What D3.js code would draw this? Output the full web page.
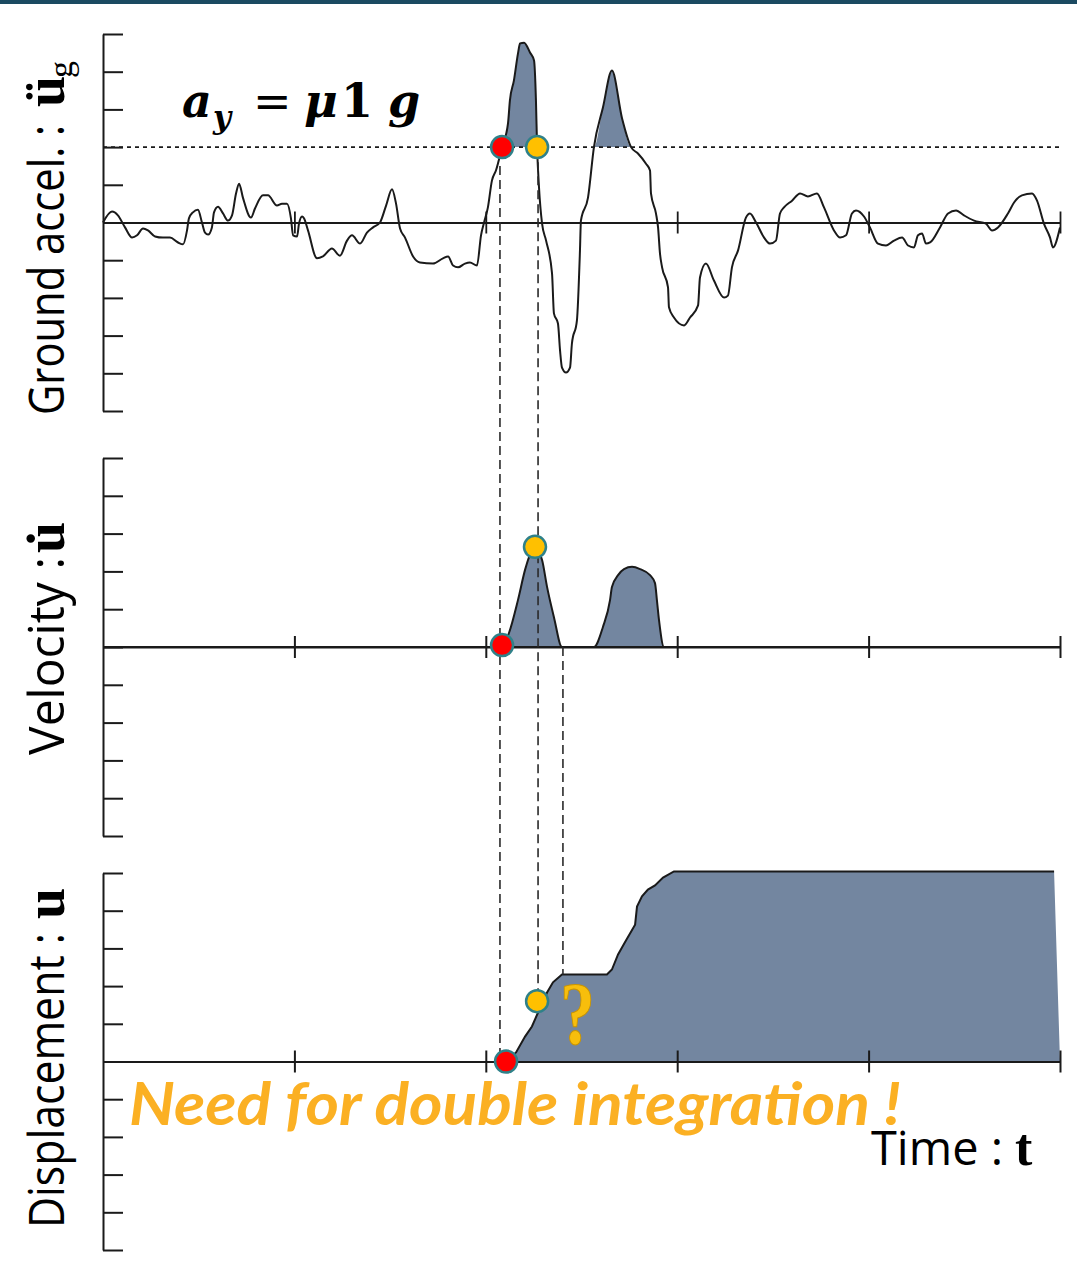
<!DOCTYPE html>
<html><head><meta charset="utf-8">
<script src="https://cdn.jsdelivr.net/npm/d3@7"></script>
<style>html,body{margin:0;padding:0;background:#fff;} svg{display:block;}</style>
</head><body>
<svg id="chart" width="1077" height="1272"></svg>
<script>
// ---------- data ----------
const timeTicks = [10, 20, 30, 40, 50];
const yTicks = [-5, -4, -3, -2, -1, 0, 1, 2, 3, 4, 5];
const threshold = 2; // a_y

const accelT = [0,0.47,0.78,1.15,1.52,1.78,2.09,2.35,2.72,3.13,
3.50,3.92,4.18,4.39,4.49,4.70,4.96,5.17,5.33,5.49,
5.69,5.80,6.01,6.27,6.53,6.74,6.95,7.11,7.31,7.73,
7.94,8.36,8.62,9.09,9.35,9.61,9.82,9.93,10.14,10.24,
10.40,10.50,10.71,11.18,11.49,11.96,12.38,12.75,13.01,13.43,
13.79,14.11,14.47,14.79,15.10,15.31,15.52,15.78,16.20,16.56,
17.24,17.76,18.03,18.29,18.55,18.91,19.17,19.54,19.75,19.91,
20.11,20.32,20.53,20.85,21.16,21.26,21.47,21.68,21.79,22.00,
22.31,22.52,22.62,22.68,22.78,22.94,23.15,23.46,23.56,23.77,
23.88,23.98,24.19,24.40,24.50,24.76,24.92,24.97,25.34,25.65,
26.12,26.59,27.12,27.59,27.95,28.37,28.58,28.63,28.89,29.00,
29.10,29.21,29.52,29.57,29.83,30.36,30.67,31.09,31.19,31.50,
31.92,32.45,32.65,32.86,33.18,33.59,33.80,34.12,34.54,34.85,
35.16,35.37,35.58,36.00,36.42,36.83,37.30,37.67,38.19,38.51,
38.82,39.13,39.34,39.76,40.07,40.49,40.91,41.33,41.75,42.06,
42.37,42.58,42.79,43.00,43.21,43.73,44.15,44.57,44.98,45.51,
46.13,46.45,46.76,47.28,47.60,48.01,48.54,48.80,49.16,49.48,
49.63,50.00];
const accelV = [0,0.29,0.19,-0.13,-0.40,-0.34,-0.16,-0.21,-0.37,-0.40,
-0.40,-0.53,-0.58,-0.21,0.11,0.27,0.34,0,-0.27,-0.32,
-0.13,0.27,0.42,0.24,0.05,0.19,0.77,1.03,0.66,0.13,
0.37,0.72,0.72,0.45,0.50,0.50,0.11,-0.34,-0.37,-0.03,
0.16,0.11,-0.21,-0.95,-0.90,-0.69,-0.88,-0.48,-0.34,-0.56,
-0.27,-0.13,0,0.45,0.88,0.50,-0.16,-0.40,-0.90,-1.06,
-1.09,-0.95,-0.90,-1.14,-1.19,-1.09,-1.06,-1.14,-0.34,0,
0.40,1.11,1.38,2.00,2.63,3.24,3.77,4.48,4.75,4.77,
4.51,4.30,3.24,2.00,0.93,-0.03,-0.48,-1.35,-2.41,-2.68,
-3.40,-3.85,-3.98,-3.85,-3.21,-2.60,-0.74,0.05,0.66,2.00,
3.05,4.03,2.76,2.00,1.83,1.56,1.38,0.77,0.24,-0.13,
-0.82,-1.19,-1.72,-2.25,-2.52,-2.73,-2.52,-2.20,-1.46,-1.09,
-1.54,-1.99,-1.94,-1.19,-0.74,0.13,0.24,0,-0.40,-0.56,
-0.48,0.24,0.40,0.58,0.77,0.69,0.77,0.40,-0.21,-0.40,
-0.34,0.24,0.32,0.16,-0.13,-0.56,-0.61,-0.48,-0.40,-0.61,
-0.66,-0.34,-0.29,-0.56,-0.53,-0.13,0.24,0.32,0.19,0.05,
-0.03,-0.21,-0.13,0.24,0.53,0.72,0.77,0.58,-0.03,-0.40,
-0.66,-0.13];

const velT = [0,20.85,21.21,21.68,22.05,22.26,22.47,22.68,22.94,23.20,23.56,23.98,25.65,26.12,26.49,26.59,26.91,27.22,27.64,28.06,28.58,28.84,28.94,29.05,29.31,50];
const velV = [0,0,0.37,1.24,2.04,2.38,2.57,2.54,2.30,1.59,0.79,0,0,0.53,1.24,1.59,1.90,2.06,2.12,2.06,1.90,1.69,1.24,0.71,0,0];

const dispT = [0,21.06,21.58,22.05,22.41,22.73,23.20,23.51,23.98,26.33,26.59,26.91,27.27,27.80,27.90,28.16,28.47,28.84,29.26,29.83,49.69,50];
const dispV = [0,0,0.24,0.66,0.93,1.30,1.83,2.10,2.31,2.31,2.44,2.84,3.16,3.63,4.11,4.38,4.56,4.67,4.88,5.04,5.04,0];

const accelDots = [{t:20.85, v:2, kind:"start"}, {t:22.68, v:2, kind:"end"}];
const velDots   = [{t:20.85, v:0.05, kind:"start"}, {t:22.57, v:2.65, kind:"end"}];
const dispDots  = [{t:21.06, v:0, kind:"start"}, {t:22.68, v:1.6, kind:"end"}];

const guideLines = [
  {t:20.74, from:["acc",1.5], to:["disp",0]},
  {t:22.73, from:["acc",1.6], to:["disp",1.6]},
  {t:24.03, from:["vel",0],   to:["disp",2.31]}
];

// ---------- styles ----------
const FILL = "#7386a0", INK = "#1a1a1a";
const DOT_COL = {start:"#ff0000", end:"#ffc000"};

// ---------- scales ----------
const svg = d3.select("#chart");
const x = d3.scaleLinear().domain([0,50]).range([103,1060]);
const yS = {
  acc:  d3.scaleLinear().domain([-5,5]).range([411,34]),
  vel:  d3.scaleLinear().domain([-5,5]).range([836,458]),
  disp: d3.scaleLinear().domain([-5,5]).range([1250,873])
};

svg.append("rect").attr("x",0).attr("y",0).attr("width",1077).attr("height",4).attr("fill","#1b4a61");

// ---------- fills ----------
const accData = d3.zip(accelT, accelV).map(([t,v])=>({t,v}));
const velData = d3.zip(velT, velV).map(([t,v])=>({t,v}));
const dispData = d3.zip(dispT, dispV).map(([t,v])=>({t,v}));

svg.append("path").datum(accData)
  .attr("fill", FILL)
  .attr("d", d3.area().curve(d3.curveMonotoneX)
    .x(d=>x(d.t)).y0(yS.acc(threshold)).y1(d=>yS.acc(Math.max(d.v,threshold))));

svg.append("path").datum(velData)
  .attr("fill", FILL).attr("stroke", INK).attr("stroke-width", 2)
  .attr("d", d3.area().curve(d3.curveMonotoneX)
    .x(d=>x(d.t)).y0(yS.vel(0)).y1(d=>yS.vel(d.v)));

svg.append("path").datum(dispData)
  .attr("fill", FILL)
  .attr("d", d3.area().x(d=>x(d.t)).y0(yS.disp(0)).y1(d=>yS.disp(d.v)));
svg.append("path").datum(dispData.filter(d=>d.t>=21 && d.t<50))
  .attr("fill","none").attr("stroke", INK).attr("stroke-width", 2)
  .attr("d", d3.line().x(d=>x(d.t)).y(d=>yS.disp(d.v)));

// threshold dotted line
svg.append("line").attr("x1", x(0)).attr("x2", x(50))
  .attr("y1", yS.acc(threshold)).attr("y2", yS.acc(threshold))
  .attr("stroke", INK).attr("stroke-width", 1.6).attr("stroke-dasharray", "4,4");

// accel curve
svg.append("path").datum(accData)
  .attr("fill","none").attr("stroke", INK).attr("stroke-width", 2).attr("stroke-linejoin","round")
  .attr("d", d3.line().curve(d3.curveMonotoneX).x(d=>x(d.t)).y(d=>yS.acc(d.v)));

// ---------- axes ----------
["acc","vel","disp"].forEach(p=>{
  const gy = svg.append("g").attr("transform", `translate(${x(0)},0)`)
    .call(d3.axisRight(yS[p]).tickValues(yTicks).tickSize(20).tickSizeOuter(0).tickFormat(""));
  gy.selectAll("path, line").attr("stroke", INK).attr("stroke-width", 2);
  const gx = svg.append("g").attr("transform", `translate(0,${yS[p](0)})`)
    .call(d3.axisBottom(x).tickValues(timeTicks).tickSizeOuter(0).tickFormat(""));
  gx.selectAll(".tick line").attr("y1", -11).attr("y2", 11);
  gx.selectAll("path, line").attr("stroke", INK).attr("stroke-width", p==="acc" ? 1.8 : 2);
});

// ---------- guides ----------
guideLines.forEach(g=>{
  svg.append("line").attr("x1", x(g.t)).attr("x2", x(g.t))
    .attr("y1", yS[g.from[0]](g.from[1])).attr("y2", yS[g.to[0]](g.to[1]))
    .attr("stroke", "#2a2a2a").attr("stroke-width", 1.6).attr("stroke-dasharray", "9,5");
});

// ---------- dots ----------
[["acc",accelDots],["vel",velDots],["disp",dispDots]].forEach(([p,arr])=>{
  svg.selectAll(null).data(arr).enter().append("circle")
    .attr("cx", d=>x(d.t)).attr("cy", d=>yS[p](d.v)).attr("r", 11)
    .attr("fill", d=>DOT_COL[d.kind]).attr("stroke", "#2f8189").attr("stroke-width", 2.5);
});

// ---------- texts ----------
const SANS = "'Open Sans', 'Noto Sans', sans-serif";
const SERIF = "'Liberation Serif', 'DejaVu Serif', serif";
function vlabel(yStart, txt, len, uPos, uText, sub){
  const g = svg.append("g").attr("transform", `translate(64,${yStart}) rotate(-90)`);
  g.append("text").attr("x",0).attr("y",0).text(txt)
    .attr("font-family", SANS).attr("font-size", 50).attr("fill","#000")
    .attr("textLength", len).attr("lengthAdjust","spacingAndGlyphs");
  g.append("text").attr("x", uPos).attr("y", 0).text(uText)
    .attr("font-family", SERIF).attr("font-weight","bold").attr("font-size", 56).attr("fill","#000");
  if (sub) g.append("text").attr("x", uPos+29).attr("y", 8).text(sub)
    .attr("font-family", SERIF).attr("font-size", 34).attr("fill","#000");
}
vlabel(415, "Ground accel. :", 290, 308, "\u00fc", "g");
vlabel(755, "Velocity :", 198, 202, "u\u0307", null);
vlabel(1228, "Displacement :", 295, 309, "u", null);

// a_y = μ1 g
const eq = svg.append("text").attr("y", 117).attr("font-family", "'DejaVu Serif', serif")
  .attr("font-weight","bold").attr("font-size", 46).attr("fill","#000");
eq.append("tspan").attr("x",182).attr("font-style","italic").text("a");
eq.append("tspan").attr("x",213).attr("dy",11).attr("font-size",31).attr("font-style","italic").text("y");
eq.append("tspan").attr("x",253).attr("dy",-11).attr("font-weight","normal").text("=");
eq.append("tspan").attr("x",304).attr("font-style","italic").text("μ");
eq.append("tspan").attr("x",341).text("1");
eq.append("tspan").attr("x",388).attr("font-style","italic").text("g");

// Need for double integration !
svg.append("text").attr("x",129).attr("y",1125)
  .attr("font-family","Lato, 'Open Sans', sans-serif").attr("font-weight","bold").attr("font-style","italic")
  .attr("font-size",60).attr("fill","#fbb023")
  .attr("textLength",772).attr("lengthAdjust","spacingAndGlyphs")
  .text("Need for double integration !");

// question mark
svg.append("text").attr("x",560).attr("y",1043)
  .attr("font-family", SERIF).attr("font-weight","bold").attr("font-size",88).attr("fill","#f7be0c")
  .attr("stroke","#c99400").attr("stroke-width",1)
  .attr("textLength",35).attr("lengthAdjust","spacingAndGlyphs").text("?");

// Time : t
svg.append("text").attr("x",871).attr("y",1165)
  .attr("font-family", SANS).attr("font-size",47).attr("fill","#000")
  .attr("textLength",132).attr("lengthAdjust","spacingAndGlyphs").text("Time :");
svg.append("text").attr("x",1015).attr("y",1165)
  .attr("font-family", SERIF).attr("font-weight","bold").attr("font-size",52).attr("fill","#000").text("t");
</script>
</body></html>
